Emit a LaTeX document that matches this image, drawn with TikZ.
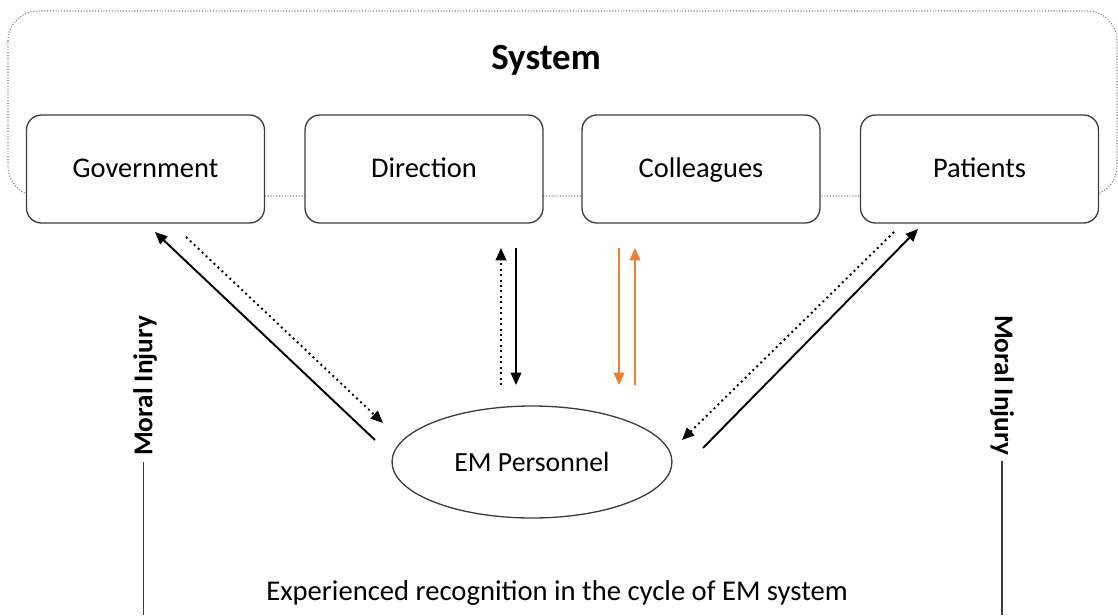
\documentclass[tikz,border=0pt]{standalone}
\usepackage{fontspec}
\setmainfont{Carlito}
\usetikzlibrary{arrows.meta,shapes.geometric}

\definecolor{emorange}{RGB}{237,125,49}
\definecolor{boxline}{RGB}{60,60,60}

\begin{document}
\begin{tikzpicture}[x=0.02cm, y=-0.02cm,
    actor/.style={draw=boxline, line width=0.75pt, rounded corners=8.5pt, fill=white,
                  minimum width=4.76cm, minimum height=2.16cm, text depth=0.25ex,
                  font=\fontsize{16.2}{19}\selectfont},
    flow/.style={line width=1.1pt, -{Triangle[length=7pt,width=6pt]}},
    weak/.style={flow, dotted},
    injury/.style={font=\fontsize{15.5}{18}\selectfont\bfseries}]
    \useasboundingbox (0,0) rectangle (1118,615);

    % system frame, the four boxes sit on its lower edge
    \draw[gray, densely dotted, line width=0.6pt, rounded corners=17pt] (8,11) rectangle (1117,196);
    \node[font=\fontsize{21}{24}\selectfont\bfseries] (system) at (546,60) {System};

    \node[actor] (gov) at (145.5,169) {Government};
    \node[actor] (dir) at (424,169) {Direction};
    \node[actor] (col) at (701,169) {Colleagues};
    \node[actor] (pat) at (979.5,169) {Patients};

    \node[draw=boxline, line width=0.75pt, ellipse, minimum width=5.6cm, minimum height=2.24cm,
          font=\fontsize{15.8}{18}\selectfont] (em) at (532,462) {EM Personnel};

    % arrow ends
    \coordinate (g1) at (375,440); \coordinate (g2) at (155,232);
    \coordinate (g3) at (186,237); \coordinate (g4) at (383,423);
    \coordinate (d1) at (501,385); \coordinate (d2) at (501,248);
    \coordinate (d3) at (516,248); \coordinate (d4) at (516,385);
    \coordinate (c1) at (619,248); \coordinate (c2) at (619,385);
    \coordinate (c3) at (635,385); \coordinate (c4) at (635,248);
    \coordinate (p1) at (894,232); \coordinate (p2) at (682,440);
    \coordinate (p3) at (703,448); \coordinate (p4) at (918,229);

    \draw[flow] (g1) -- (g2);
    \draw[weak] (g3) -- (g4);
    \draw[weak] (d1) -- (d2);
    \draw[flow] (d3) -- (d4);
    \draw[flow, emorange] (c1) -- (c2);
    \draw[flow, emorange] (c3) -- (c4);
    \draw[weak] (p1) -- (p2);
    \draw[flow] (p3) -- (p4);

    % the moral injury sides of the cycle
    \node[injury, rotate=90] (injl) at (145,386) {Moral Injury};
    \node[injury, rotate=-90] (injr) at (1002,385) {Moral Injury};
    \coordinate (bottom) at (0,615);
    \draw[boxline, line width=0.75pt] ([xshift=-1pt]injl.west) ++(0,-0.15) -- ([xshift=-1pt]injl.west |- bottom);
    \draw[boxline, line width=0.75pt] (injr.east) ++(0,-0.15) -- (injr.east |- bottom);

    \node[font=\fontsize{16.3}{19}\selectfont] (cycle) at (557,593) {Experienced recognition in the cycle of EM system};
\end{tikzpicture}
\end{document}
